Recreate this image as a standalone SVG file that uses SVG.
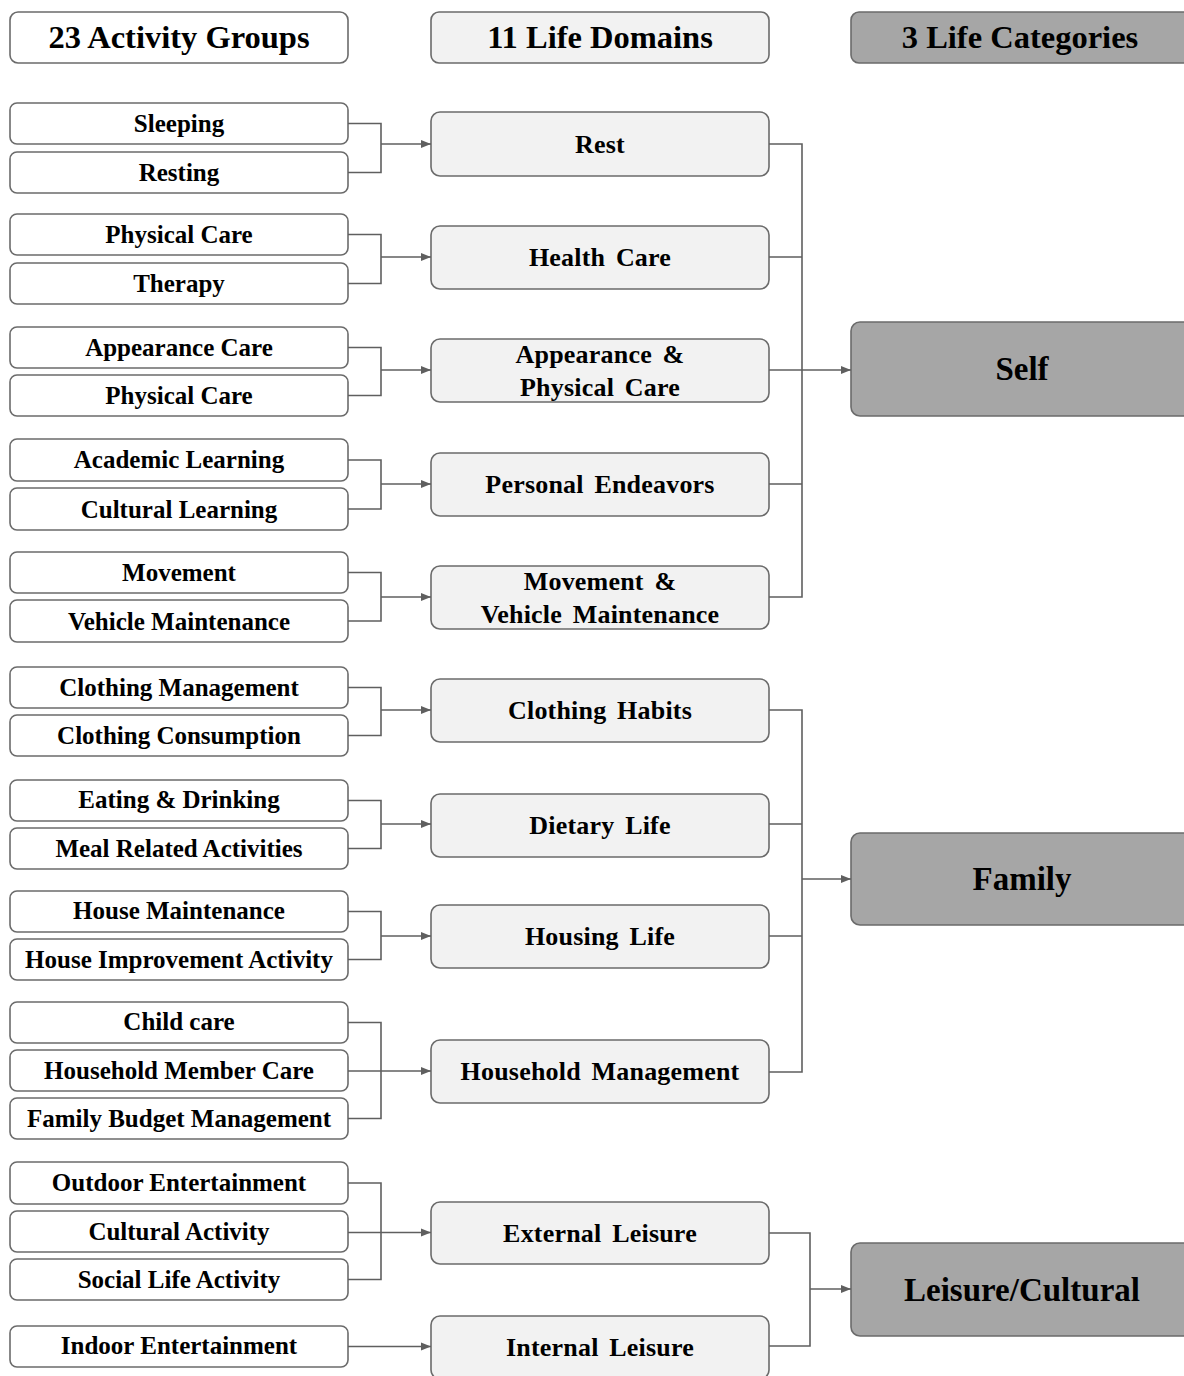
<svg xmlns="http://www.w3.org/2000/svg" width="1184" height="1376" viewBox="0 0 1184 1376">
<style>
.box{stroke:#6b6b6b;stroke-width:1.6}
.a{fill:#ffffff}
.d{fill:#f2f2f2}
.c{fill:#a6a6a6}
text{font-family:'Liberation Serif',serif;font-weight:700;fill:#000;text-anchor:middle}
.h{font-size:32.5px}
.l{font-size:25px}
.m{font-size:26px;word-spacing:4px;letter-spacing:0.2px}
.r{font-size:33px}
.ln{fill:none;stroke:#5f5f5f;stroke-width:1.6}
</style>
<defs>
<marker id="ar" viewBox="0 0 10 10" refX="10" refY="5" markerWidth="10" markerHeight="10" markerUnits="userSpaceOnUse" orient="auto">
<path d="M0,1 L10,5 L0,9 z" fill="#5f5f5f"/>
</marker>
</defs>
<rect width="1184" height="1376" fill="#ffffff"/>

<g id="headers">
<g id="h-activity"><rect class="box a" x="10" y="12" width="338" height="51" rx="8"/><text class="h" x="179" y="48">23 Activity Groups</text></g>
<g id="h-domains"><rect class="box d" x="431" y="12" width="338" height="51" rx="8"/><text class="h" x="600" y="48">11 Life Domains</text></g>
<g id="h-categories"><rect class="box c" x="851" y="12" width="345" height="51" rx="8"/><text class="h" x="1020" y="48">3 Life Categories</text></g>
</g>

<g id="activities">
<g id="a1"><rect class="box a" x="10" y="103" width="338" height="41" rx="7"/><text class="l" x="179" y="132">Sleeping</text></g>
<g id="a2"><rect class="box a" x="10" y="152" width="338" height="41" rx="7"/><text class="l" x="179" y="181">Resting</text></g>
<g id="a3"><rect class="box a" x="10" y="214" width="338" height="41" rx="7"/><text class="l" x="179" y="243">Physical Care</text></g>
<g id="a4"><rect class="box a" x="10" y="263" width="338" height="41" rx="7"/><text class="l" x="179" y="292">Therapy</text></g>
<g id="a5"><rect class="box a" x="10" y="327" width="338" height="41" rx="7"/><text class="l" x="179" y="356">Appearance Care</text></g>
<g id="a6"><rect class="box a" x="10" y="375" width="338" height="41" rx="7"/><text class="l" x="179" y="404">Physical Care</text></g>
<g id="a7"><rect class="box a" x="10" y="439" width="338" height="42" rx="7"/><text class="l" x="179" y="468">Academic Learning</text></g>
<g id="a8"><rect class="box a" x="10" y="488" width="338" height="42" rx="7"/><text class="l" x="179" y="518">Cultural Learning</text></g>
<g id="a9"><rect class="box a" x="10" y="552" width="338" height="41" rx="7"/><text class="l" x="179" y="581">Movement</text></g>
<g id="a10"><rect class="box a" x="10" y="600" width="338" height="42" rx="7"/><text class="l" x="179" y="630">Vehicle Maintenance</text></g>
<g id="a11"><rect class="box a" x="10" y="667" width="338" height="41" rx="7"/><text class="l" x="179" y="696">Clothing Management</text></g>
<g id="a12"><rect class="box a" x="10" y="715" width="338" height="41" rx="7"/><text class="l" x="179" y="744">Clothing Consumption</text></g>
<g id="a13"><rect class="box a" x="10" y="780" width="338" height="41" rx="7"/><text class="l" x="179" y="808">Eating &amp; Drinking</text></g>
<g id="a14"><rect class="box a" x="10" y="828" width="338" height="41" rx="7"/><text class="l" x="179" y="857">Meal Related Activities</text></g>
<g id="a15"><rect class="box a" x="10" y="891" width="338" height="41" rx="7"/><text class="l" x="179" y="919">House Maintenance</text></g>
<g id="a16"><rect class="box a" x="10" y="939" width="338" height="41" rx="7"/><text class="l" x="179" y="968">House Improvement Activity</text></g>
<g id="a17"><rect class="box a" x="10" y="1002" width="338" height="41" rx="7"/><text class="l" x="179" y="1030">Child care</text></g>
<g id="a18"><rect class="box a" x="10" y="1050" width="338" height="41" rx="7"/><text class="l" x="179" y="1079">Household Member Care</text></g>
<g id="a19"><rect class="box a" x="10" y="1098" width="338" height="41" rx="7"/><text class="l" x="179" y="1127">Family Budget Management</text></g>
<g id="a20"><rect class="box a" x="10" y="1162" width="338" height="42" rx="7"/><text class="l" x="179" y="1191">Outdoor Entertainment</text></g>
<g id="a21"><rect class="box a" x="10" y="1211" width="338" height="41" rx="7"/><text class="l" x="179" y="1240">Cultural Activity</text></g>
<g id="a22"><rect class="box a" x="10" y="1259" width="338" height="41" rx="7"/><text class="l" x="179" y="1288">Social Life Activity</text></g>
<g id="a23"><rect class="box a" x="10" y="1326" width="338" height="41" rx="7"/><text class="l" x="179" y="1354">Indoor Entertainment</text></g>
</g>

<g id="domains">
<g id="d1"><rect class="box d" x="431" y="112" width="338" height="64" rx="9"/><text class="m" x="600" y="153">Rest</text></g>
<g id="d2"><rect class="box d" x="431" y="226" width="338" height="63" rx="9"/><text class="m" x="600" y="266">Health Care</text></g>
<g id="d3"><rect class="box d" x="431" y="339" width="338" height="63" rx="9"/><text class="m" x="600" y="363">Appearance &amp;</text><text class="m" x="600" y="396">Physical Care</text></g>
<g id="d4"><rect class="box d" x="431" y="453" width="338" height="63" rx="9"/><text class="m" x="600" y="493">Personal Endeavors</text></g>
<g id="d5"><rect class="box d" x="431" y="566" width="338" height="63" rx="9"/><text class="m" x="600" y="590">Movement &amp;</text><text class="m" x="600" y="623">Vehicle Maintenance</text></g>
<g id="d6"><rect class="box d" x="431" y="679" width="338" height="63" rx="9"/><text class="m" x="600" y="719">Clothing Habits</text></g>
<g id="d7"><rect class="box d" x="431" y="794" width="338" height="63" rx="9"/><text class="m" x="600" y="834">Dietary Life</text></g>
<g id="d8"><rect class="box d" x="431" y="905" width="338" height="63" rx="9"/><text class="m" x="600" y="945">Housing Life</text></g>
<g id="d9"><rect class="box d" x="431" y="1040" width="338" height="63" rx="9"/><text class="m" x="600" y="1080">Household Management</text></g>
<g id="d10"><rect class="box d" x="431" y="1202" width="338" height="62" rx="9"/><text class="m" x="600" y="1242">External Leisure</text></g>
<g id="d11"><rect class="box d" x="431" y="1316" width="338" height="63" rx="9"/><text class="m" x="600" y="1356">Internal Leisure</text></g>
</g>

<g id="categories">
<g id="c1"><rect class="box c" x="851" y="322" width="345" height="94" rx="9"/><text class="r" x="1022" y="380">Self</text></g>
<g id="c2"><rect class="box c" x="851" y="833" width="345" height="92" rx="9"/><text class="r" x="1022" y="890">Family</text></g>
<g id="c3"><rect class="box c" x="851" y="1243" width="345" height="93" rx="9"/><text class="r" x="1022" y="1301">Leisure/Cultural</text></g>
</g>

<g id="connectors">
<path class="ln" d="M348,123.5 H381 V172.5 H348"/>
<path class="ln" d="M381,144 H431" marker-end="url(#ar)"/>
<path class="ln" d="M348,234.5 H381 V283.5 H348"/>
<path class="ln" d="M381,257 H431" marker-end="url(#ar)"/>
<path class="ln" d="M348,347.5 H381 V395.5 H348"/>
<path class="ln" d="M381,370 H431" marker-end="url(#ar)"/>
<path class="ln" d="M348,460 H381 V509 H348"/>
<path class="ln" d="M381,484 H431" marker-end="url(#ar)"/>
<path class="ln" d="M348,572.5 H381 V621 H348"/>
<path class="ln" d="M381,597 H431" marker-end="url(#ar)"/>
<path class="ln" d="M348,687.5 H381 V735.5 H348"/>
<path class="ln" d="M381,710 H431" marker-end="url(#ar)"/>
<path class="ln" d="M348,800.5 H381 V848.5 H348"/>
<path class="ln" d="M381,824 H431" marker-end="url(#ar)"/>
<path class="ln" d="M348,911.5 H381 V959.5 H348"/>
<path class="ln" d="M381,936 H431" marker-end="url(#ar)"/>
<path class="ln" d="M348,1022.5 H381 V1118.5 H348"/>
<path class="ln" d="M348,1071 H431" marker-end="url(#ar)"/>
<path class="ln" d="M348,1183 H381 V1279.5 H348"/>
<path class="ln" d="M348,1232.5 H431" marker-end="url(#ar)"/>
<path class="ln" d="M348,1346.5 H431" marker-end="url(#ar)"/>

<path class="ln" d="M769,144 H802 V597 H769"/>
<path class="ln" d="M769,257 H802 M769,484 H802"/>
<path class="ln" d="M769,370 H851" marker-end="url(#ar)"/>
<path class="ln" d="M769,710 H802 V1072 H769"/>
<path class="ln" d="M769,824 H802 M769,936 H802"/>
<path class="ln" d="M802,879 H851" marker-end="url(#ar)"/>
<path class="ln" d="M769,1233 H810 V1346 H769"/>
<path class="ln" d="M810,1289 H851" marker-end="url(#ar)"/>
</g>
</svg>
